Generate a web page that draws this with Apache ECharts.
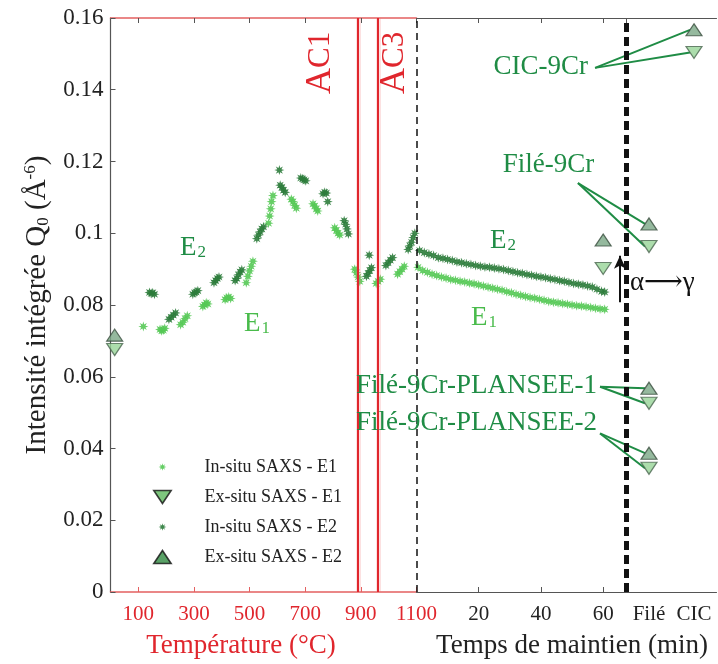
<!DOCTYPE html>
<html>
<head>
<meta charset="utf-8">
<script src="https://cdn.jsdelivr.net/npm/echarts@6/dist/echarts.min.js"></script>
<style>
html, body { margin: 0; padding: 0; background: #fff; }
#chart { width: 718px; height: 664px; }
</style>
</head>
<body>
<div id="chart"></div>
<script>
// data
var tempTicks = [100, 300, 500, 700, 900, 1100];
var categories = ['Filé', 'CIC'];
var tempAc1 = 889;
var tempAc3 = 961;
var tempMax = 1100;
var timeMax = 67.5;

var insituE1Temp = [
  [118, 0.0740],
  [178, 0.0732], [184, 0.0728], [190, 0.0730], [195, 0.0735],
  [252, 0.0745], [260, 0.0752], [268, 0.0762], [276, 0.0770],
  [332, 0.0796], [338, 0.0800], [344, 0.0806], [350, 0.0803],
  [412, 0.0815], [418, 0.0820], [425, 0.0822], [432, 0.0818],
  [488, 0.0862], [494, 0.0880], [500, 0.0895], [506, 0.0908], [512, 0.0922],
  [568, 0.1028], [572, 0.1048], [576, 0.1068], [579, 0.1088], [584, 0.1105],
  [650, 0.1095], [656, 0.1088], [662, 0.1078], [668, 0.1070],
  [728, 0.1082], [734, 0.1076], [740, 0.1068], [745, 0.1062],
  [806, 0.1015], [812, 0.1008], [818, 0.1000], [824, 0.0995],
  [878, 0.0900], [884, 0.0890], [890, 0.0878], [896, 0.0866],
  [955, 0.0860], [962, 0.0866], [970, 0.0872],
  [1032, 0.0886], [1040, 0.0893], [1048, 0.0900], [1056, 0.0908]
];
var insituE2Temp = [
  [140, 0.0835], [146, 0.0832], [152, 0.0834], [158, 0.0830],
  [210, 0.0760], [218, 0.0766], [226, 0.0772], [234, 0.0778],
  [296, 0.0830], [302, 0.0834], [308, 0.0836], [314, 0.0840],
  [372, 0.0862], [378, 0.0868], [384, 0.0874], [390, 0.0878],
  [448, 0.0868], [454, 0.0874], [460, 0.0884], [466, 0.0892], [472, 0.0898],
  [526, 0.0985], [532, 0.0995], [538, 0.1004], [544, 0.1012], [550, 0.1018],
  [607, 0.1176],
  [610, 0.1134], [616, 0.1128], [622, 0.1120], [628, 0.1114],
  [684, 0.1154], [690, 0.1152], [696, 0.1149], [702, 0.1146],
  [764, 0.1110], [770, 0.1114], [776, 0.1112], [781, 0.1088],
  [840, 0.1035], [845, 0.1025], [850, 0.1012], [855, 0.0998],
  [920, 0.0880], [926, 0.0888], [932, 0.0896], [938, 0.0904], [930, 0.0939],
  [990, 0.0910], [998, 0.0918], [1006, 0.0925], [1014, 0.0932],
  [1070, 0.0955], [1076, 0.0965], [1082, 0.0975], [1088, 0.0988], [1094, 0.1000]
];
var insituE1Time = [
  [0.5, 0.0905], [2, 0.0896], [3.5, 0.0891], [5, 0.0886], [6.5, 0.0882], [8, 0.0878],
  [9.5, 0.0875], [11, 0.0871], [12.5, 0.0869], [14, 0.0866], [15.5, 0.0864], [17, 0.0861],
  [18.5, 0.0859], [20, 0.0856], [21.5, 0.0853], [23, 0.0850], [24.5, 0.0847], [26, 0.0844],
  [27.5, 0.0841], [29, 0.0837], [30.5, 0.0834], [32, 0.0830], [33.5, 0.0827], [35, 0.0824],
  [36.5, 0.0821], [38, 0.0819], [39.5, 0.0816], [41, 0.0813], [42.5, 0.0810], [44, 0.0808],
  [45.5, 0.0806], [47, 0.0804], [48.5, 0.0802], [50, 0.0800], [51.5, 0.0798], [53, 0.0797],
  [54.5, 0.0795], [56, 0.0793], [57.5, 0.0791], [59, 0.0789], [60.5, 0.0788]
];
var insituE2Time = [
  [1, 0.0952], [2.5, 0.0946], [4, 0.0942], [5.5, 0.0938], [7, 0.0932], [8.5, 0.0930],
  [10, 0.0927], [11.5, 0.0924], [13, 0.0920], [14.5, 0.0918], [16, 0.0915], [17.5, 0.0913],
  [19, 0.0910], [20.5, 0.0908], [22, 0.0906], [23.5, 0.0905], [25, 0.0903], [26.5, 0.0901],
  [28, 0.0899], [29.5, 0.0896], [31, 0.0893], [32.5, 0.0890], [34, 0.0888], [35.5, 0.0885],
  [37, 0.0883], [38.5, 0.0880], [40, 0.0878], [41.5, 0.0876], [43, 0.0873], [44.5, 0.0871],
  [46, 0.0868], [47.5, 0.0866], [49, 0.0863], [50.5, 0.0860], [52, 0.0858], [53.5, 0.0856],
  [55, 0.0853], [56.5, 0.0850], [58, 0.0844], [59.5, 0.0838], [60.5, 0.0836]
];
var exsituE1Temp = [[15, 0.0676]];
var exsituE2Temp = [[15, 0.0716]];
var exsituE1Time = [[60, 0.0902]];
var exsituE2Time = [[60, 0.0981]];
var exsituE1Cat = [['Filé', 0.0963], ['CIC', 0.1504], ['Filé', 0.0526], ['Filé', 0.0345]];
var exsituE2Cat = [['Filé', 0.1026], ['CIC', 0.1567], ['Filé', 0.0568], ['Filé', 0.0387]];

// annotations: text anchor / line start on the time axis, targets on the category axis
var sampleNotes = [
  { text: 'CIC-9Cr', textAt: [55.1, 0.1463], lineFrom: [57.4, 0.1461], targets: [['CIC', 0.1567], ['CIC', 0.1504]] },
  { text: 'Filé-9Cr', textAt: [57.1, 0.1190], lineFrom: [51.9, 0.1140], targets: [['Filé', 0.1026], ['Filé', 0.0963]] },
  { text: 'Filé-9Cr-PLANSEE-1', textAt: [58.0, 0.0574], lineFrom: [59.0, 0.0572], targets: [['Filé', 0.0568], ['Filé', 0.0526]] },
  { text: 'Filé-9Cr-PLANSEE-2', textAt: [58.0, 0.0471], lineFrom: [59.0, 0.0442], targets: [['Filé', 0.0387], ['Filé', 0.0345]] }
];
var eLabelsTemp = [
  { sub: '2', at: [297, 0.0959], dark: true },
  { sub: '1', at: [527, 0.0747], dark: false }
];
var eLabelsTime = [
  { sub: '2', at: [27.8, 0.0978], dark: true },
  { sub: '1', at: [21.7, 0.0764], dark: false }
];
var arrowFrom = [65.4, 0.0808];
var arrowTo = [65.4, 0.0937];
var arrowText = [65.4, 0.0861];
var acLabelY = 0.1475;

(function () {
  var serif = '"Liberation Serif", "DejaVu Serif", serif';
  var red = '#e0262d';
  var redAxis = '#e46060';
  var ink = '#222';
  var axisGrey = '#555';
  var cE1 = '#55c955';
  var cE2 = '#2c7c3b';
  var noteGreen = '#1f8c45';
  var lblE1 = '#49bb4b';

  function starPath(r1, r2, pad) {
    var s = 'path://';
    for (var i = 0; i < 16; i++) {
      var a = i * Math.PI / 8 - Math.PI / 2;
      var r = i % 2 ? r2 : r1;
      s += (i ? 'L' : 'M') + (r * Math.cos(a)).toFixed(2) + ' ' + (r * Math.sin(a)).toFixed(2) + ' ';
    }
    s += 'Z';
    if (pad) {
      s += ' M' + (-pad) + ' ' + (-pad) + ' L' + (-pad) + ' ' + (-pad) + ' M' + pad + ' ' + pad + ' L' + pad + ' ' + pad;
    }
    return s;
  }
  var star = starPath(10, 4.5);
  var starLegend = starPath(10, 4.5, 17);
  var triUp = 'path://M8 0 L16 12 L0 12 Z';
  var triDown = 'path://M0 0 L16 0 L8 12 Z';

  var upStyle = { color: '#7aa886', borderColor: '#3a4d3e', borderWidth: 1.2 };
  var downStyle = { color: '#97d597', borderColor: '#4b6650', borderWidth: 1.2 };

  var el = document.getElementById('chart');
  var chart = echarts.init(el, null, { renderer: 'canvas' });

  var yBase = { type: 'value', min: 0, max: 0.16, interval: 0.02, scale: false };
  function hiddenY(gi) {
    return Object.assign({}, yBase, { gridIndex: gi, show: false, splitLine: { show: false } });
  }
  function topAxis(base) {
    return Object.assign({}, base, {
      position: 'top',
      name: '',
      axisLabel: { show: false },
      axisTick: Object.assign({}, base.axisTick, { lineStyle: { color: axisGrey } })
    });
  }

  var xTemp = {
    type: 'value', gridIndex: 0, min: 0, max: tempMax,
    axisLine: { lineStyle: { color: redAxis, width: 1.5 } },
    axisTick: { inside: true, length: 5, customValues: tempTicks, lineStyle: { color: redAxis } },
    axisLabel: { customValues: tempTicks, color: red, fontFamily: serif, fontSize: 21, margin: 12,
      formatter: function (v) { return String(v); } },
    splitLine: { show: false },
    name: 'Température (°C)', nameLocation: 'middle', nameGap: 40,
    nameTextStyle: { color: red, fontFamily: serif, fontSize: 27, padding: [0, 45, 0, 0] }
  };
  var xTime = {
    type: 'value', gridIndex: 1, min: 0, max: timeMax, interval: 20,
    axisLine: { lineStyle: { color: axisGrey, width: 1.2 } },
    axisTick: { inside: true, length: 5, lineStyle: { color: axisGrey } },
    axisLabel: { color: ink, fontFamily: serif, fontSize: 21, margin: 12, showMinLabel: false,
      formatter: function (v) { return v === 0 ? '' : String(v); } },
    splitLine: { show: false },
    name: 'Temps de maintien (min)', nameLocation: 'middle', nameGap: 40,
    nameTextStyle: { color: ink, fontFamily: serif, fontSize: 27, padding: [0, 0, 0, 101] }
  };
  var xCat = {
    type: 'category', gridIndex: 2, data: categories, boundaryGap: true,
    axisLine: { lineStyle: { color: axisGrey, width: 1.2 } },
    axisTick: { inside: true, length: 5, alignWithLabel: true, interval: 0, lineStyle: { color: axisGrey } },
    axisLabel: { color: ink, fontFamily: serif, fontSize: 21, margin: 12, interval: 0, hideOverlap: false },
    splitLine: { show: false }
  };

  var xTempTop = topAxis(xTemp);
  xTempTop.axisTick = { inside: true, length: 5, customValues: tempTicks, lineStyle: { color: axisGrey } };

  chart.setOption({
    animation: false,
    backgroundColor: '#fff',
    grid: [
      { left: 110.5, top: 18, width: 306, height: 574 },
      { left: 416.5, top: 18, width: 210, height: 574 },
      { left: 626.5, top: 18, width: 90, height: 574 }
    ],
    xAxis: [xTemp, xTempTop, xTime, topAxis(xTime), xCat, topAxis(xCat)],
    yAxis: [
      Object.assign({}, yBase, {
        gridIndex: 0,
        axisLine: { show: true, lineStyle: { color: axisGrey, width: 1.2 } },
        axisTick: { show: true, inside: true, length: 5, lineStyle: { color: axisGrey } },
        axisLabel: { color: ink, fontFamily: serif, fontSize: 23, margin: 7 },
        splitLine: { show: false },
        name: 'Intensité intégrée Q{sub|0} (Å{sup|-6})',
        nameLocation: 'middle', nameGap: 58,
        nameTextStyle: {
          color: ink, fontFamily: serif, fontSize: 29,
          rich: {
            sub: { fontFamily: serif, fontSize: 17, color: ink, padding: [13, 0, 0, 0] },
            sup: { fontFamily: serif, fontSize: 17, color: ink, padding: [0, 0, 13, 0] }
          }
        }
      }),
      hiddenY(1),
      hiddenY(2)
    ],
    legend: {
      orient: 'vertical', left: 148, top: 452,
      itemWidth: 74, itemHeight: 13, itemGap: 10, symbolKeepAspect: true,
      textStyle: { fontFamily: serif, fontSize: 18, color: ink, lineHeight: 20 },
      data: [
        { name: 'In-situ SAXS - E1', icon: starLegend, itemStyle: { color: cE1 } },
        { name: 'Ex-situ SAXS - E1', icon: triDown, itemStyle: { color: '#5cb85c', borderColor: '#111', borderWidth: 1.6 } },
        { name: 'In-situ SAXS - E2', icon: starLegend, itemStyle: { color: cE2 } },
        { name: 'Ex-situ SAXS - E2', icon: triUp, itemStyle: { color: '#2f8a40', borderColor: '#111', borderWidth: 1.6 } }
      ]
    },
    series: [
      {
        type: 'line', xAxisIndex: 0, yAxisIndex: 0, data: [], z: 1, silent: true,
        markLine: {
          silent: true, symbol: 'none', label: { show: false }, animation: false,
          data: [
            { xAxis: tempAc1, lineStyle: { color: 'rgba(240,120,120,0.22)', width: 5, type: 'solid' } },
            { xAxis: tempAc3, lineStyle: { color: 'rgba(240,120,120,0.22)', width: 5, type: 'solid' } },
            { xAxis: tempAc1, lineStyle: { color: red, width: 2, type: 'solid' } },
            { xAxis: tempAc3, lineStyle: { color: red, width: 2, type: 'solid' } },
            { xAxis: tempMax, lineStyle: { color: '#111', width: 1.5, type: [7, 5] } }
          ]
        }
      },
      {
        type: 'line', xAxisIndex: 2, yAxisIndex: 1, data: [], z: 1, silent: true,
        markLine: {
          silent: true, symbol: 'none', label: { show: false }, animation: false,
          data: [
            { xAxis: timeMax, lineStyle: { color: '#111', width: 5, type: [9, 5] } },
            [
              { coord: arrowFrom, symbol: 'none' },
              { coord: arrowTo, symbol: 'arrow', symbolSize: [9, 13], lineStyle: { color: '#111', width: 2, type: 'solid' } }
            ]
          ]
        }
      },
      { name: 'In-situ SAXS - E1', type: 'scatter', xAxisIndex: 0, yAxisIndex: 0, data: insituE1Temp, symbol: star, symbolSize: 10, itemStyle: { color: cE1, opacity: 0.9 }, z: 3 },
      { name: 'In-situ SAXS - E1', type: 'scatter', xAxisIndex: 2, yAxisIndex: 1, data: insituE1Time, symbol: star, symbolSize: 10, itemStyle: { color: cE1, opacity: 0.9 }, z: 3 },
      { name: 'In-situ SAXS - E2', type: 'scatter', xAxisIndex: 0, yAxisIndex: 0, data: insituE2Temp, symbol: star, symbolSize: 10, itemStyle: { color: cE2, opacity: 0.9 }, z: 3 },
      { name: 'In-situ SAXS - E2', type: 'scatter', xAxisIndex: 2, yAxisIndex: 1, data: insituE2Time, symbol: star, symbolSize: 10, itemStyle: { color: cE2, opacity: 0.9 }, z: 3 },
      { name: 'Ex-situ SAXS - E1', type: 'scatter', xAxisIndex: 0, yAxisIndex: 0, data: exsituE1Temp, symbol: triDown, symbolSize: [16, 12], itemStyle: downStyle, z: 4 },
      { name: 'Ex-situ SAXS - E1', type: 'scatter', xAxisIndex: 2, yAxisIndex: 1, data: exsituE1Time, symbol: triDown, symbolSize: [16, 12], itemStyle: downStyle, z: 4 },
      { name: 'Ex-situ SAXS - E1', type: 'scatter', xAxisIndex: 4, yAxisIndex: 2, data: exsituE1Cat, symbol: triDown, symbolSize: [16, 12], itemStyle: downStyle, z: 4 },
      { name: 'Ex-situ SAXS - E2', type: 'scatter', xAxisIndex: 0, yAxisIndex: 0, data: exsituE2Temp, symbol: triUp, symbolSize: [16, 12], itemStyle: upStyle, z: 4 },
      { name: 'Ex-situ SAXS - E2', type: 'scatter', xAxisIndex: 2, yAxisIndex: 1, data: exsituE2Time, symbol: triUp, symbolSize: [16, 12], itemStyle: upStyle, z: 4 },
      { name: 'Ex-situ SAXS - E2', type: 'scatter', xAxisIndex: 4, yAxisIndex: 2, data: exsituE2Cat, symbol: triUp, symbolSize: [16, 12], itemStyle: upStyle, z: 4 }
    ]
  });

  // annotations placed from data coordinates
  function pTemp(p) { return chart.convertToPixel({ xAxisIndex: 0, yAxisIndex: 0 }, p); }
  function pTime(p) { return chart.convertToPixel({ xAxisIndex: 2, yAxisIndex: 1 }, p); }
  function pCat(p) { return chart.convertToPixel({ xAxisIndex: 4, yAxisIndex: 2 }, p); }

  var g = [];
  sampleNotes.forEach(function (n) {
    var t = pTime(n.textAt);
    var s = pTime(n.lineFrom);
    g.push({ type: 'text', x: t[0], y: t[1], z: 10,
      style: { text: n.text, fill: noteGreen, font: '27px ' + serif, align: 'right', verticalAlign: 'middle' } });
    n.targets.forEach(function (tg) {
      var e = pCat(tg);
      g.push({ type: 'line', z: 1, shape: { x1: s[0], y1: s[1], x2: e[0] - 4, y2: e[1] },
        style: { stroke: noteGreen, lineWidth: 2 } });
    });
  });
  function eLabel(l, pt) {
    var c = l.dark ? noteGreen : lblE1;
    g.push({ type: 'text', x: pt[0], y: pt[1], z: 10,
      style: {
        text: '{b|E}{s|' + l.sub + '}', align: 'center', verticalAlign: 'middle',
        rich: {
          b: { fill: c, font: '27px ' + serif },
          s: { fill: c, font: '17px ' + serif, padding: [9, 0, 0, 1] }
        }
      } });
  }
  eLabelsTemp.forEach(function (l) { eLabel(l, pTemp(l.at)); });
  eLabelsTime.forEach(function (l) { eLabel(l, pTime(l.at)); });

  var a1 = pTemp([tempAc1, acLabelY]);
  var a3 = pTemp([tempAc3, acLabelY]);
  function acText(num, x, y) {
    g.push({ type: 'text', x: x, y: y, rotation: Math.PI / 2, z: 10,
      style: {
        text: '{a|A}{c|C' + num + '}', align: 'center', verticalAlign: 'middle',
        rich: { a: { fill: red, font: '36px ' + serif }, c: { fill: red, font: '31px ' + serif } }
      } });
  }
  acText('1', a1[0] - 37, a1[1]);
  acText('3', a3[0] + 17, a3[1]);

  var at = pTime(arrowText);
  g.push({ type: 'text', x: at[0] + 10, y: at[1], z: 10,
    style: { text: 'α⟶γ', fill: '#111', font: '27px ' + serif, align: 'left', verticalAlign: 'middle' } });

  chart.setOption({ graphic: g });
})();
</script>
</body>
</html>
